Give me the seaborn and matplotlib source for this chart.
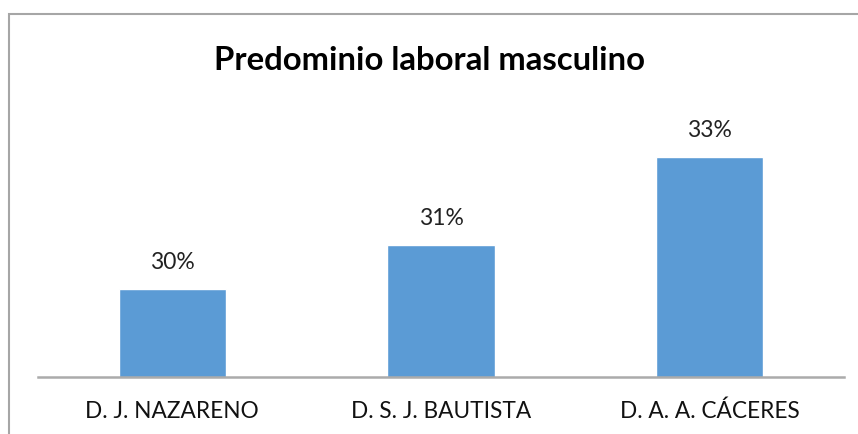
import matplotlib
matplotlib.use("Agg")
import matplotlib.pyplot as plt
from matplotlib.patches import Rectangle
import seaborn as sns
import pandas as pd

categories = ["D. J. NAZARENO", "D. S. J. BAUTISTA", "D. A. A. CÁCERES"]
values = [0.30, 0.31, 0.33]
title = "Predominio laboral masculino"

W, H = 858, 434

sns.set_style("white")
plt.rcParams["font.family"] = ["Lato", "DejaVu Sans"]

df = pd.DataFrame({"zona": categories, "valor": values})

fig = plt.figure(figsize=(W / 100, H / 100), dpi=100)
ax = fig.add_axes([38 / W, (H - 377) / H, (844 - 38) / W, (377 - 69) / H])

sns.barplot(data=df, x="zona", y="valor", color="#5B9BD5", width=0.4,
            saturation=1, ax=ax)
ax.set_ylim(0.28, 0.35)

labels = [f"{v * 100:.0f}%" for v in values]
ax.bar_label(ax.containers[0], labels=labels, padding=11.5, fontsize=16.5,
             color="#222222")

for s in ["top", "left", "right"]:
    ax.spines[s].set_visible(False)
ax.spines["bottom"].set_color("#ababab")
ax.spines["bottom"].set_linewidth(1.8)
ax.set_yticks([])
ax.set_xlabel("")
ax.set_ylabel("")
ax.tick_params(axis="x", length=0, pad=17, labelsize=16.3, labelcolor="#111111")

fig.text(0.5, (H - 60) / H, title, ha="center", va="center",
         fontsize=23.7, fontweight="bold", color="#000000")

# chart frame (cut off at right and bottom)
fig.patches.append(Rectangle((9 / W, -0.2), 2.0, (H - 14) / H + 0.2,
                             transform=fig.transFigure, fill=False,
                             edgecolor="#a6a6a6", linewidth=1.5))

fig.savefig("out.png", dpi=100)
